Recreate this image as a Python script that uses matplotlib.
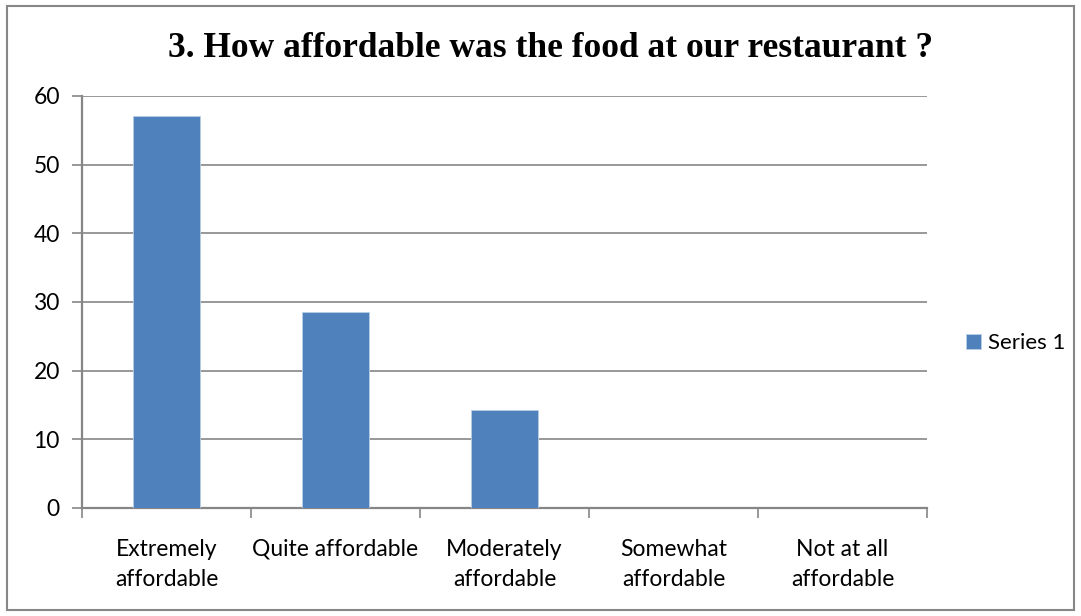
import matplotlib.pyplot as plt
from matplotlib.patches import Rectangle

categories = ['Extremely\naffordable', 'Quite affordable', 'Moderately\naffordable',
              'Somewhat\naffordable', 'Not at all\naffordable']
values = [57.14, 28.57, 14.29, 0, 0]
series_name = 'Series 1'
title = '3. How affordable was the food at our restaurant ?'

W, H = 1081, 616
fig = plt.figure(figsize=(W / 100, H / 100), dpi=100)
ax = fig.add_axes([82 / W, 1 - 508 / H, (927 - 82) / W, (508 - 96) / H])

grid_col = '#868686'
x = range(len(categories))
ax.bar(x, values, width=0.4, color='#4F81BD', edgecolor='#B9CDE5', linewidth=0.6,
       label=series_name, zorder=3)

ax.set_xlim(-0.5, len(categories) - 0.5)
ax.set_ylim(0, 60)
ax.set_yticks(range(0, 61, 10))
ax.yaxis.grid(True, color=grid_col, linewidth=1.2, zorder=0)

# category boundaries carry the tick marks, labels sit at the centres
ax.set_xticks([i - 0.5 for i in range(len(categories) + 1)])
ax.set_xticklabels([])
ax.set_xticks(list(x), minor=True)
ax.set_xticklabels(categories, minor=True, fontsize=16.5, family='Lato', linespacing=1.55)
ax.tick_params(axis='x', which='minor', length=0, pad=22)
ax.tick_params(axis='x', which='major', length=7, width=1.2, color=grid_col)
ax.tick_params(axis='y', length=7, width=1.2, color=grid_col, pad=9)
for lab in ax.get_yticklabels():
    lab.set_fontsize(16.5)
    lab.set_family('Lato')

for side in ['top', 'right']:
    ax.spines[side].set_visible(False)
for side in ['left', 'bottom']:
    ax.spines[side].set_color(grid_col)
    ax.spines[side].set_linewidth(1.6)

fig.text(551 / W, 1 - 57 / H, title, ha='center', va='baseline', fontsize=25.5,
         family='Liberation Serif', fontweight='bold')

fig.legend(loc='center left', bbox_to_anchor=(966 / W, 1 - 343 / H), frameon=False,
           prop={'family': 'Lato', 'size': 16}, handlelength=0.68, handleheight=0.68,
           handletextpad=0.3, borderpad=0, borderaxespad=0)

fig.patches.append(Rectangle((7 / W, 6 / H), (1074 - 7) / W, (610 - 6) / H,
                             transform=fig.transFigure, fill=False,
                             edgecolor='#878787', linewidth=1.5))

fig.savefig('out.png', dpi=100, facecolor='white')
